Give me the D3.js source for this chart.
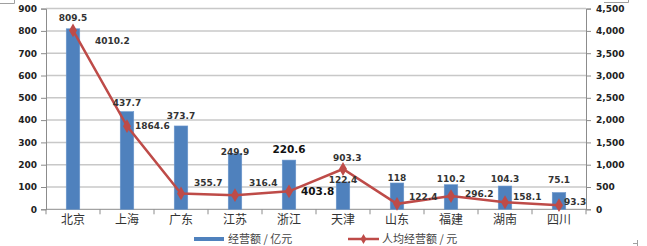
<!DOCTYPE html>
<html>
<head>
<meta charset="utf-8">
<script src="https://cdn.jsdelivr.net/npm/d3@7"></script>
<style>
  body { margin: 0; background: #fff; }
  svg { display: block; }
</style>
</head>
<body>
<div id="chart"></div>
<script>
var categories = ["北京", "上海", "广东", "江苏", "浙江", "天津", "山东", "福建", "湖南", "四川"];
var turnover = [809.5, 437.7, 373.7, 249.9, 220.6, 122.4, 118, 110.2, 104.3, 75.1];      // 经营额 / 亿元
var perCapita = [4010.2, 1864.6, 355.7, 316.4, 403.8, 903.3, 122.4, 296.2, 158.1, 93.3]; // 人均经营额 / 元
var leftTicks = [0, 100, 200, 300, 400, 500, 600, 700, 800, 900];
var rightTicks = [0, 500, 1000, 1500, 2000, 2500, 3000, 3500, 4000, 4500];
var seriesNames = ["经营额 / 亿元", "人均经营额 / 元"];

// hand-placed label nudges (px), like the manual placement in the original
var barLabelDy = [-11, -9, -10, -2, -11, -2, -5, -6, -7, -13];
var lineLabelDx = [22, 8, 13, 14, 12, -10, 12, 14, 8, 5];
var lineLabelDy = [10.5, 0, -11, -12.5, 0, -11, -7, -2, -5, -3];
var emphasis = [false, false, false, false, true, false, false, false, false, false];

var width = 647, height = 246;
var margin = {top: 8.6, right: 61, bottom: 36.7, left: 46};

var svg = d3.select("#chart").append("svg")
  .attr("width", width)
  .attr("height", height);

var x = d3.scaleBand()
  .domain(categories)
  .range([margin.left, width - margin.right])
  .paddingInner(0.75)
  .paddingOuter(0.375);

var y = d3.scaleLinear().domain([0, 900]).range([height - margin.bottom, margin.top]);
var y2 = d3.scaleLinear().domain([0, 4500]).range([height - margin.bottom, margin.top]);

var numFont = "DejaVu Sans, Verdana, sans-serif";
var cjkFont = "Noto Sans CJK SC, sans-serif";
var axisColor = "#8c8c8c";

// gridlines
svg.append("g").selectAll("line")
  .data(leftTicks.slice(1))
  .enter().append("line")
  .attr("x1", margin.left).attr("x2", width - margin.right)
  .attr("y1", function(d){ return y(d); }).attr("y2", function(d){ return y(d); })
  .attr("stroke", "#c8c8c8").attr("stroke-width", 1.5);

// left axis
var left = svg.append("g")
  .attr("transform", "translate(" + margin.left + ",0)")
  .call(d3.axisLeft(y).tickValues(leftTicks).tickSize(5).tickPadding(4));
left.select(".domain").attr("stroke", axisColor);
left.selectAll(".tick line").attr("stroke", axisColor);
left.selectAll("text").attr("font-family", numFont).attr("font-weight", "bold")
  .attr("font-size", 9).attr("fill", "#222");

// right axis
var right = svg.append("g")
  .attr("transform", "translate(" + (width - margin.right) + ",0)")
  .call(d3.axisRight(y2).tickValues(rightTicks).tickSize(5).tickPadding(5).tickFormat(d3.format(",")));
right.select(".domain").attr("stroke", axisColor);
right.selectAll(".tick line").attr("stroke", axisColor);
right.selectAll("text").attr("font-family", numFont).attr("font-weight", "bold")
  .attr("font-size", 9).attr("fill", "#222");

// bottom axis
var base = y(0);
svg.append("line")
  .attr("x1", margin.left).attr("x2", width - margin.right)
  .attr("y1", base).attr("y2", base)
  .attr("stroke", axisColor);
svg.append("g").selectAll("line")
  .data(d3.range(categories.length + 1))
  .enter().append("line")
  .attr("x1", function(i){ return margin.left + i * x.step(); })
  .attr("x2", function(i){ return margin.left + i * x.step(); })
  .attr("y1", base).attr("y2", base + 5)
  .attr("stroke", axisColor);
svg.append("g").selectAll("text")
  .data(categories)
  .enter().append("text")
  .attr("x", function(d){ return x(d) + x.bandwidth() / 2; })
  .attr("y", base + 15)
  .attr("text-anchor", "middle")
  .attr("font-family", cjkFont).attr("font-size", 12).attr("fill", "#333")
  .text(function(d){ return d; });

// bars
svg.append("g").selectAll("rect")
  .data(turnover)
  .enter().append("rect")
  .attr("x", function(d, i){ return x(categories[i]); })
  .attr("y", function(d){ return y(d); })
  .attr("width", x.bandwidth())
  .attr("height", function(d){ return base - y(d); })
  .attr("fill", "#4F81BD")
  .attr("stroke", "#6a96cc").attr("stroke-width", 0.6);

// line
var cx = function(i){ return x(categories[i]) + x.bandwidth() / 2; };
var line = d3.line()
  .x(function(d, i){ return cx(i); })
  .y(function(d){ return y2(d); });
svg.append("path")
  .datum(perCapita)
  .attr("d", line)
  .attr("fill", "none")
  .attr("stroke", "#BE4B48")
  .attr("stroke-width", 2.5);
svg.append("g").selectAll("path")
  .data(perCapita)
  .enter().append("path")
  .attr("d", d3.symbol().type(d3.symbolDiamond).size(55))
  .attr("transform", function(d, i){ return "translate(" + cx(i) + "," + y2(d) + ")"; })
  .attr("fill", "#BE4B48");

// bar labels
svg.append("g").selectAll("text")
  .data(turnover)
  .enter().append("text")
  .attr("x", function(d, i){ return cx(i); })
  .attr("y", function(d, i){ return y(d) + barLabelDy[i]; })
  .attr("dy", "0.36em")
  .attr("text-anchor", "middle")
  .attr("font-family", numFont).attr("font-weight", "bold")
  .attr("font-size", function(d, i){ return emphasis[i] ? 10.5 : 9; })
  .attr("fill", function(d, i){ return emphasis[i] ? "#111" : "#333"; })
  .text(function(d){ return d; });

// line labels
svg.append("g").selectAll("text")
  .data(perCapita)
  .enter().append("text")
  .attr("x", function(d, i){ return cx(i) + lineLabelDx[i]; })
  .attr("y", function(d, i){ return y2(d) + lineLabelDy[i]; })
  .attr("dy", "0.36em")
  .attr("font-family", numFont).attr("font-weight", "bold")
  .attr("font-size", function(d, i){ return emphasis[i] ? 10.5 : 9; })
  .attr("fill", function(d, i){ return emphasis[i] ? "#111" : "#333"; })
  .text(function(d){ return d; });

// legend
var ly = 239;
var legend = svg.append("g");
legend.append("rect")
  .attr("x", 194).attr("y", ly - 2).attr("width", 30).attr("height", 4)
  .attr("fill", "#4F81BD");
legend.append("text")
  .attr("x", 228).attr("y", ly).attr("dy", "0.36em")
  .attr("font-family", cjkFont).attr("font-size", 11).attr("fill", "#444")
  .text(seriesNames[0]);
legend.append("line")
  .attr("x1", 348).attr("x2", 379).attr("y1", ly).attr("y2", ly)
  .attr("stroke", "#BE4B48").attr("stroke-width", 2.5);
legend.append("path")
  .attr("d", d3.symbol().type(d3.symbolDiamond).size(30))
  .attr("transform", "translate(363.5," + ly + ")")
  .attr("fill", "#BE4B48");
legend.append("text")
  .attr("x", 382).attr("y", ly).attr("dy", "0.36em")
  .attr("font-family", cjkFont).attr("font-size", 11).attr("fill", "#444")
  .text(seriesNames[1]);

// bits of the outer frame that show at the edges
var frame = svg.append("g").attr("stroke", "#a0a0a0").attr("fill", "none");
frame.append("path").attr("d", "M0,3.5H14.5V0");
frame.append("path").attr("d", "M604,2.5H628.5V0");
frame.append("path").attr("d", "M637.5,240V246M633,243.5H637.5");
</script>
</body>
</html>
